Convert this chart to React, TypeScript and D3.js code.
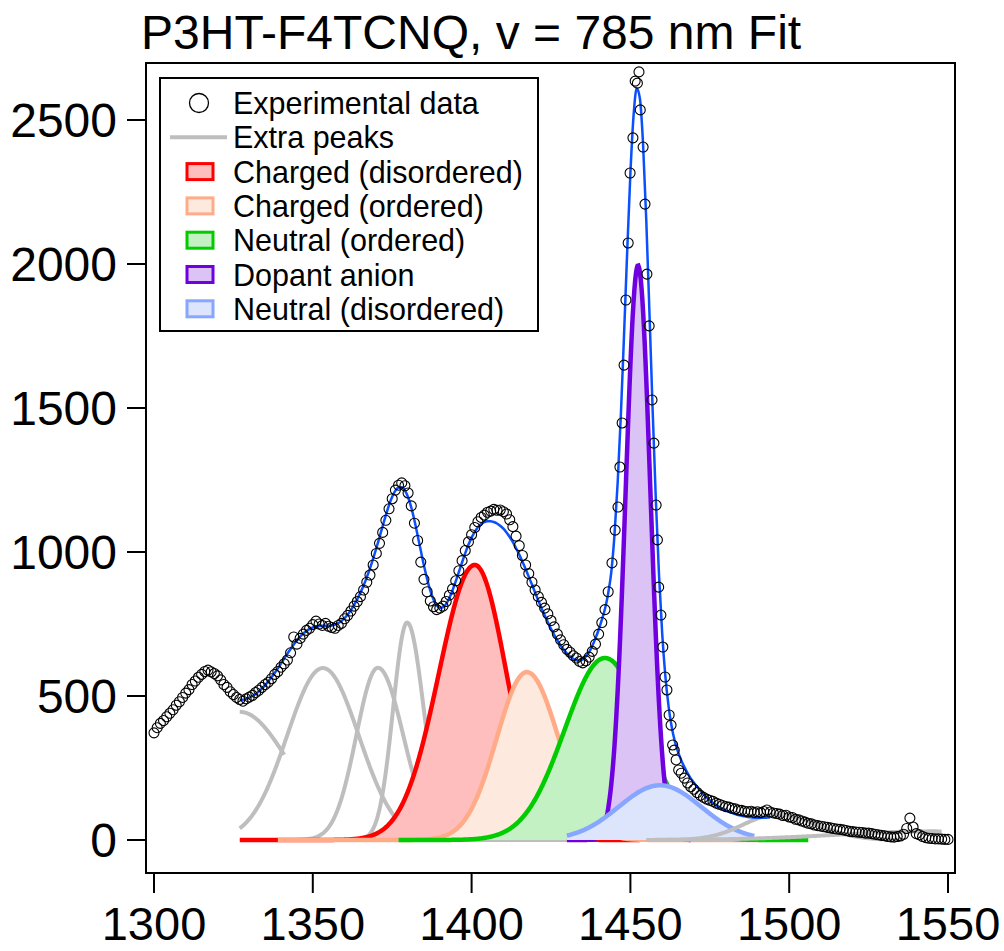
import React from 'react';
import * as d3 from 'd3';

const TITLE = 'P3HT-F4TCNQ, v = 785 nm Fit';
const X_TICKS = [1300, 1350, 1400, 1450, 1500, 1550];
const Y_TICKS = [0, 500, 1000, 1500, 2000, 2500];

// Experimental data: uniform 1 cm-1 grid on the left part
const DATA_LEFT_START = 1300;
const DATA_LEFT = [
  372, 390, 405, 415, 428, 440, 452, 468, 480, 495,
  510, 522, 540, 552, 565, 575, 585, 590, 584, 578,
  570, 556, 540, 530, 515, 505, 495, 488, 482, 490,
  496, 502, 512, 520, 530, 540, 548, 560, 575, 585,
  600, 612, 625, 650, 705, 680, 700, 715, 728, 735,
  748, 760, 750, 745, 752, 742, 738, 735, 745, 752,
  768, 780, 795, 812, 828, 845, 868, 895, 920, 955,
  995, 1030, 1068, 1110, 1150, 1185, 1215, 1232, 1240, 1230,
  1205, 1160, 1100, 1040, 965, 905, 862, 830, 810, 800,
  805, 812, 828, 850, 872, 900, 935, 970, 1005, 1035,
  1060, 1085, 1105, 1120, 1128, 1138, 1142, 1148, 1145, 1146,
  1140, 1132, 1112, 1088, 1055, 1022, 988, 955, 925, 895,
  868, 845, 825, 805, 785, 762, 740, 715, 695, 678,
  662, 652, 640, 632, 620, 615, 622, 635, 655, 680,
  715, 755, 800, 862,
];
// Dense points on the dopant-anion peak
const PEAK_X = [
  1444.2, 1445.2, 1446.1, 1446.7, 1447.4, 1448.0, 1448.6, 1449.3, 1449.9, 1450.8,
  1451.5, 1452.2, 1452.7, 1453.1, 1454.0, 1454.6, 1455.2, 1455.9, 1456.8, 1457.4,
  1458.1, 1458.5, 1458.9, 1459.6, 1460.2, 1460.9, 1461.5, 1462.2, 1462.8, 1463.3,
  1463.8, 1464.4, 1465.2,
];
const PEAK_Y = [
  962, 1076, 1156, 1295, 1448, 1649, 1875, 2073, 2316, 2438,
  2635, 2628, 2667, 2535, 2406, 2208, 1965, 1785, 1528, 1378,
  1163, 1042, 878, 781, 670, 566, 521, 434, 399, 330,
  312, 278, 243,
];
const DATA_RIGHT_START = 1466;
const DATA_RIGHT = [
  232, 215, 198, 185, 176, 165, 155, 148, 142, 138,
  134, 128, 124, 120, 116, 114, 110, 108, 104, 103,
  100, 98, 100, 96, 98, 95, 99, 104, 97, 94,
  92, 90, 85, 86, 80, 78, 72, 70, 66, 62,
  58, 56, 52, 50, 48, 46, 44, 42, 40, 38,
  37, 35, 33, 30, 29, 28, 27, 26, 24, 24,
  22, 20, 18, 16, 15, 12, 11, 10, 12, 14,
  20, 40, 76, 45, 22, 18, 12, 8, 6, 5,
  4, 4, 3, 2, 2,
];

// Total fit (blue), 1 cm-1 grid
const FIT_START = 1327;
const FIT = [
  486, 487, 490, 494, 500, 507, 516, 526, 538, 551,
  565, 580, 596, 613, 630, 647, 663, 679, 693, 706,
  717, 726, 733, 738, 741, 743, 744, 744, 744, 745,
  748, 753, 760, 770, 783, 798, 816, 836, 859, 884,
  912, 943, 977, 1013, 1051, 1090, 1128, 1163, 1192, 1213,
  1224, 1225, 1214, 1190, 1155, 1110, 1058, 1005, 953, 906,
  866, 835, 815, 806, 808, 820, 840, 867, 898, 931,
  964, 996, 1025, 1050, 1070, 1086, 1097, 1104, 1107, 1107,
  1104, 1099, 1091, 1081, 1068, 1052, 1034, 1013, 991, 967,
  941, 914, 887, 859, 832, 805, 780, 756, 733, 712,
  693, 676, 661, 648, 637, 629, 624, 623, 627, 637,
  652, 674, 700, 730, 764, 803, 856, 932, 1061, 1243,
  1477, 1755, 2046, 2315, 2516, 2610, 2574, 2413, 2151, 1830,
  1494, 1184, 923, 719, 570, 466, 393, 342, 306, 277,
  253, 232, 214, 199, 185, 172, 160, 148, 138, 129,
  121, 114, 108, 103, 98, 94, 90, 87, 84, 82,
  80, 79, 78, 77, 77, 77, 78, 79,
];

// Extra peaks (gray) : fitted peak parameters
const EXTRA_CENTER = [1327, 1353.2, 1370.5, 1379.7, 1496, 1545];
const EXTRA_AMP = [445, 597, 598, 755, 88, 30];
const EXTRA_SIGMA_L = [15, 11.3, 6.8, 4.4, 10.5, 30];
const EXTRA_SIGMA_R = [15.5, 11.3, 8, 5.2, 12.5, 30];
const EXTRA_FROM = [1327, 1327, 1345, 1360, 1462, 1455];
const EXTRA_TO = [1341, 1400, 1400, 1430, 1535, 1548];

// Assigned bands
const BAND_NAMES = ['Charged (disordered)', 'Charged (ordered)', 'Neutral (ordered)', 'Dopant anion', 'Neutral (disordered)'];
const BAND_CENTER = [1401, 1417.4, 1442, 1452.4, 1459.3];
const BAND_AMP = [955, 583, 632, 1995, 190];
const BAND_SIGMA_L = [11.3, 9.5, 12.7, 3.9, 13];
const BAND_SIGMA_R = [10, 10, 12.7, 3.9, 13];
const BAND_FROM = [1327, 1339, 1377, 1430, 1430];
const BAND_TO = [1453, 1491, 1506, 1469, 1489];

const BAND_STROKE = ['#ff0000', '#ffab88', '#00cc00', '#7000e0', '#86a6ff'];
const BAND_FILL = ['#ffbebe', '#fde9de', '#c3f1c3', '#dcc3f6', '#dde5fd'];
const GRAY = '#bebebe';
const FIT_COLOR = '#0a50ff';
const FONT = '"Liberation Sans", Arial, sans-serif';

function peak(c: number, a: number, sl: number, sr: number) {
  return (v: number) => {
    const s = v < c ? sl : sr;
    return a * Math.exp(-((v - c) * (v - c)) / (2 * s * s));
  };
}

export default function App() {
  const x = d3.scaleLinear().domain([1300, 1550]).range([154, 948]);
  const y = d3.scaleLinear().domain([0, 2500]).range([840, 120]);

  const data: [number, number][] = [];
  DATA_LEFT.forEach((v, i) => data.push([DATA_LEFT_START + i, v]));
  PEAK_X.forEach((v, i) => data.push([v, PEAK_Y[i]]));
  DATA_RIGHT.forEach((v, i) => data.push([DATA_RIGHT_START + i, v]));

  const fitPts: [number, number][] = FIT.map((v, i) => [FIT_START + i, v]);
  const fitLine = d3.line<[number, number]>().x(d => x(d[0])).y(d => y(d[1])).curve(d3.curveMonotoneX);

  const curvePts = (from: number, to: number, f: (v: number) => number) =>
    d3.range(from, to + 1e-6, 0.25).map(v => [v, f(v)] as [number, number]);
  const line = d3.line<[number, number]>().x(d => x(d[0])).y(d => y(d[1]));
  const area = d3.area<[number, number]>().x(d => x(d[0])).y0(y(0)).y1(d => y(d[1]));

  const extras = EXTRA_CENTER.map((c, i) =>
    curvePts(EXTRA_FROM[i], EXTRA_TO[i], peak(c, EXTRA_AMP[i], EXTRA_SIGMA_L[i], EXTRA_SIGMA_R[i])));
  const bands = BAND_CENTER.map((c, i) =>
    curvePts(BAND_FROM[i], BAND_TO[i], peak(c, BAND_AMP[i], BAND_SIGMA_L[i], BAND_SIGMA_R[i])));

  const legendRows = ['Experimental data', 'Extra peaks', ...BAND_NAMES];

  return (
    <svg width={1004} height={951} style={{ position: 'absolute', left: 0, top: 0, background: '#fff' }} fontFamily={FONT}>
      <rect x={0} y={0} width={1004} height={951} fill="#fff" />
      <text x={141} y={49} fontSize={48} fill="#000">{TITLE}</text>

      {/* extra peaks under bands */}
      {extras.slice(0, 4).map((pts, i) => (
        <path key={'e' + i} d={line(pts) || ''} fill="none" stroke={GRAY} strokeWidth={4} />
      ))}
      {bands.map((pts, i) => (
        <g key={'b' + i}>
          <path d={area(pts) || ''} fill={BAND_FILL[i]} stroke="none" />
          <path d={line(pts) || ''} fill="none" stroke={BAND_STROKE[i]} strokeWidth={4.5} />
        </g>
      ))}
      {extras.slice(4).map((pts, i) => (
        <path key={'e2' + i} d={line(pts) || ''} fill="none" stroke={GRAY} strokeWidth={4} />
      ))}

      <path d={fitLine(fitPts) || ''} fill="none" stroke={FIT_COLOR} strokeWidth={2.5} />

      {data.map((d, i) => (
        <circle key={'c' + i} cx={x(d[0])} cy={y(d[1])} r={5} fill="none" stroke="#000" strokeWidth={1.1} />
      ))}

      {/* frame */}
      <rect x={146} y={63} width={809} height={810} fill="none" stroke="#000" strokeWidth={2} />

      {Y_TICKS.map(t => (
        <g key={'y' + t}>
          <line x1={127} x2={146} y1={y(t)} y2={y(t)} stroke="#000" strokeWidth={2} />
          <text x={117} y={y(t) + 17} fontSize={48} textAnchor="end" fill="#000">{t}</text>
        </g>
      ))}
      {X_TICKS.map(t => (
        <g key={'x' + t}>
          <line x1={x(t)} x2={x(t)} y1={874} y2={893} stroke="#000" strokeWidth={2} />
          <text x={x(t)} y={940} fontSize={47} textAnchor="middle" fill="#000">{t}</text>
        </g>
      ))}

      {/* legend */}
      <rect x={160} y={78} width={378} height={253} fill="#fff" stroke="#000" strokeWidth={2} />
      {legendRows.map((name, i) => {
        const cy = 103 + i * 34.3;
        let sym;
        if (i === 0) sym = <circle cx={199} cy={cy} r={9.5} fill="none" stroke="#000" strokeWidth={1.3} />;
        else if (i === 1) sym = <line x1={170} x2={227} y1={cy} y2={cy} stroke={GRAY} strokeWidth={4} />;
        else sym = <rect x={187} y={cy - 8} width={26} height={16} fill={BAND_FILL[i - 2]} stroke={BAND_STROKE[i - 2]} strokeWidth={3} />;
        return (
          <g key={'l' + i}>
            {sym}
            <text x={233} y={cy + 11} fontSize={30.5} fill="#000">{name}</text>
          </g>
        );
      })}
    </svg>
  );
}
